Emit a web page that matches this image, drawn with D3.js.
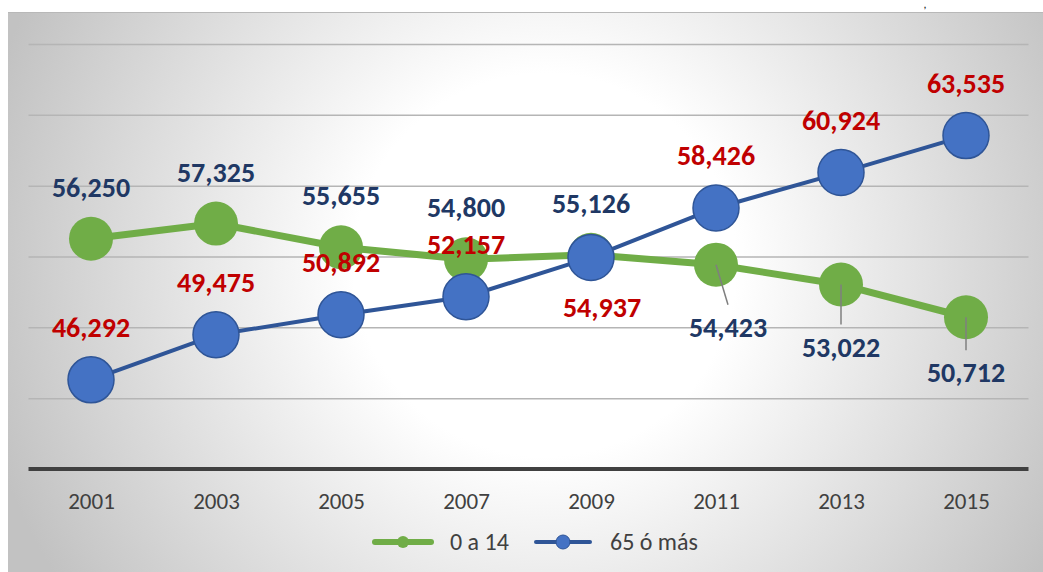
<!DOCTYPE html>
<html>
<head>
<meta charset="utf-8">
<script src="https://cdn.jsdelivr.net/npm/d3@7"></script>
<style>
  html, body { margin: 0; padding: 0; background: #ffffff; }
  svg { display: block; }
</style>
</head>
<body>
<svg id="chart" width="1043" height="572"></svg>
<script>
// ---- data ----
const years = ["2001", "2003", "2005", "2007", "2009", "2011", "2013", "2015"];
const kids = [56250, 57325, 55655, 54800, 55126, 54423, 53022, 50712];   // 0 a 14
const elders = [46292, 49475, 50892, 52157, 54937, 58426, 60924, 63535]; // 65 ó más
const seriesNames = ["0 a 14", "65 ó más"];
const yTicks = [45000, 50000, 55000, 60000, 65000, 70000];

// ---- layout (label placement, not data) ----
const kidsLabelPlace = ["above", "above", "above", "above", "above", "below", "below", "below"];
const kidsLabelDx = [0, 0, 0, 0, 0, 12, 0, 0];
const kidsBelowDy = [72, 72, 65];
const eldersLabelPlace = ["above", "above", "above", "above", "below", "above", "above", "above"];
const eldersLabelDx = [0, 0, 0, 0, 11, 0, 0, 0];

const svg = d3.select("#chart");
const W = 1043, H = 572;
const FONT = "Carlito, Lato, 'Open Sans', sans-serif";

// background gradient
const defs = svg.append("defs");
const grad = defs.append("radialGradient")
  .attr("id", "bg").attr("gradientUnits", "userSpaceOnUse")
  .attr("cx", 545).attr("cy", 265).attr("r", 580);
grad.append("stop").attr("offset", "0%").attr("stop-color", "#ffffff");
grad.append("stop").attr("offset", "33%").attr("stop-color", "#ffffff");
grad.append("stop").attr("offset", "100%").attr("stop-color", "#c2c2c2");

svg.append("rect").attr("x", 8).attr("y", 12).attr("width", W - 8).attr("height", H - 12)
  .attr("fill", "url(#bg)");
svg.append("line").attr("x1", 8).attr("x2", W).attr("y1", 12.5).attr("y2", 12.5)
  .attr("stroke", "#b8b8b8").attr("stroke-width", 1);

// title fragment at top
svg.append("text").attr("x", 924).attr("y", 8).attr("font-family", FONT)
  .attr("font-size", 9).attr("font-style", "italic").attr("font-weight", "bold")
  .attr("fill", "#222").text(",");

// scales
const x = d3.scalePoint().domain(years).range([91, 966]);
const y = d3.scaleLinear().domain([40000, 70000]).range([469, 44]);

// gridlines
const grid = svg.append("g").attr("transform", "translate(28.5,0)")
  .call(d3.axisLeft(y).tickValues(yTicks).tickSize(-1000).tickFormat(""));
grid.select(".domain").remove();
grid.selectAll("line").attr("stroke", "#b5b5b5").attr("stroke-width", 1.5);

// x axis
const xAxis = svg.append("g").attr("transform", "translate(0,469)")
  .call(d3.axisBottom(x).tickSize(0).tickPadding(0));
xAxis.select(".domain").remove();
xAxis.append("line").attr("x1", 28.5).attr("x2", 1028.5).attr("y1", 0).attr("y2", 0)
  .attr("stroke", "#404040").attr("stroke-width", 4);
xAxis.selectAll("text")
  .attr("y", 40).attr("dy", null)
  .attr("font-family", FONT).attr("font-size", 23).attr("fill", "#404040");

// series
const GREEN = "#70AD47", BLUE = "#4472C4", BLUE_LINE = "#2F5597";
const NAVY = "#203864", RED = "#C00000";

const line = d3.line().x((d, i) => x(years[i])).y(d => y(d));

svg.append("path").datum(kids).attr("d", line)
  .attr("fill", "none").attr("stroke", GREEN).attr("stroke-width", 7)
  .attr("stroke-linejoin", "round");
svg.append("g").selectAll("circle").data(kids).join("circle")
  .attr("cx", (d, i) => x(years[i])).attr("cy", d => y(d)).attr("r", 22)
  .attr("fill", GREEN);

svg.append("path").datum(elders).attr("d", line)
  .attr("fill", "none").attr("stroke", BLUE_LINE).attr("stroke-width", 4)
  .attr("stroke-linejoin", "round");
svg.append("g").selectAll("circle").data(elders).join("circle")
  .attr("cx", (d, i) => x(years[i])).attr("cy", d => y(d)).attr("r", 23)
  .attr("fill", BLUE).attr("stroke", BLUE_LINE).attr("stroke-width", 1.5);

const fmt = d3.format(",");

// leader lines for kids labels below
let belowIdx = 0;
const kidsLabelY = kids.map((d, i) => {
  if (kidsLabelPlace[i] === "above") return y(d) - 42;
  return y(d) + kidsBelowDy[belowIdx++];
});
svg.append("g").selectAll("line")
  .data(kids.map((d, i) => ({ d, i })).filter(o => kidsLabelPlace[o.i] === "below"))
  .join("line")
  .attr("x1", o => x(years[o.i])).attr("y1", o => y(o.d))
  .attr("x2", o => x(years[o.i]) + kidsLabelDx[o.i]).attr("y2", o => kidsLabelY[o.i] - 32)
  .attr("stroke", "#7f7f7f").attr("stroke-width", 1.5);

// labels
svg.append("g").selectAll("text").data(kids).join("text")
  .attr("x", (d, i) => x(years[i]) + kidsLabelDx[i])
  .attr("y", (d, i) => kidsLabelY[i])
  .attr("text-anchor", "middle").attr("font-family", FONT)
  .attr("font-size", 28).attr("font-weight", "bold").attr("fill", NAVY)
  .text(d => fmt(d));

svg.append("g").selectAll("text").data(elders).join("text")
  .attr("x", (d, i) => x(years[i]) + eldersLabelDx[i])
  .attr("y", (d, i) => eldersLabelPlace[i] === "above" ? y(d) - 42.5 : y(d) + 60)
  .attr("text-anchor", "middle").attr("font-family", FONT)
  .attr("font-size", 28).attr("font-weight", "bold").attr("fill", RED)
  .text(d => fmt(d));

// legend
const legend = svg.append("g");
const lg1 = legend.append("g");
lg1.append("line").attr("x1", 375).attr("x2", 431).attr("y1", 542).attr("y2", 542)
  .attr("stroke", GREEN).attr("stroke-width", 6).attr("stroke-linecap", "round");
lg1.append("circle").attr("cx", 403).attr("cy", 542).attr("r", 6).attr("fill", GREEN);
lg1.append("text").attr("x", 450).attr("y", 550).attr("font-family", FONT)
  .attr("font-size", 24).attr("fill", "#404040").text(seriesNames[0]);

const lg2 = legend.append("g");
lg2.append("line").attr("x1", 536).attr("x2", 590).attr("y1", 542).attr("y2", 542)
  .attr("stroke", BLUE_LINE).attr("stroke-width", 4).attr("stroke-linecap", "round");
lg2.append("circle").attr("cx", 563).attr("cy", 542).attr("r", 7)
  .attr("fill", BLUE).attr("stroke", BLUE_LINE).attr("stroke-width", 1);
lg2.append("text").attr("x", 610).attr("y", 550).attr("font-family", FONT)
  .attr("font-size", 24).attr("fill", "#404040").text(seriesNames[1]);
</script>
</body>
</html>
